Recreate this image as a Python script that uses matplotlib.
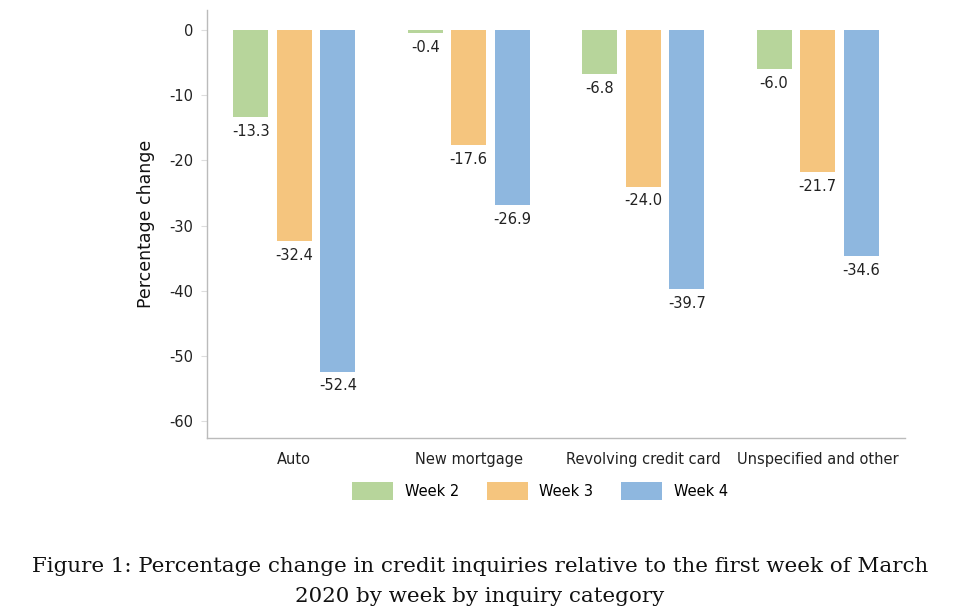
import matplotlib.pyplot as plt
import numpy as np

plt.rcParams['axes.unicode_minus'] = False

categories = ['Auto', 'New mortgage', 'Revolving credit card', 'Unspecified and other']
weeks = ['Week 2', 'Week 3', 'Week 4']
week2 = [-13.3, -0.4, -6.8, -6.0]
week3 = [-32.4, -17.6, -24.0, -21.7]
week4 = [-52.4, -26.9, -39.7, -34.6]
colors = ['#b7d59b', '#f5c57e', '#8eb7df']

fig = plt.figure(figsize=(9.6, 6.12), dpi=100)
ax = fig.add_axes([207 / 960, 1 - 438 / 612, (905 - 207) / 960, (438 - 10) / 612])

x = np.arange(len(categories))
width = 0.2
step = 0.25
series = [week2, week3, week4]
handles = []
for i, (vals, name, col) in enumerate(zip(series, weeks, colors)):
    pos = x + (i - 1) * step
    b = ax.bar(pos, vals, width, color=col, label=name)
    handles.append(b)
    for p, v in zip(pos, vals):
        ax.annotate(f'{v:.1f}', (p, v), xytext=(0, -5), textcoords='offset points',
                    ha='center', va='top', fontsize=10.5, color='#222222')

ax.set_xlim(-0.5, 3.5)
ax.set_ylim(-62.6, 3.1)
ax.set_yticks(np.arange(0, -61, -10))
ax.set_xticks(x)
ax.set_xticklabels(categories, fontsize=10.5, color='#222222')
ax.tick_params(axis='x', length=0, pad=10)
ax.tick_params(axis='y', length=4, color='#dddddd', labelsize=10.5, labelcolor='#222222', pad=6)
for s in ['top', 'right']:
    ax.spines[s].set_visible(False)
for s in ['left', 'bottom']:
    ax.spines[s].set_color('#bbbbbb')
    ax.spines[s].set_linewidth(1)
ax.set_ylabel('Percentage change', fontsize=12.5, color='#111111', labelpad=10)

fig.legend(handles=handles, labels=weeks, loc='center', bbox_to_anchor=(540 / 960, 1 - 491 / 612),
           ncol=3, frameon=False, fontsize=10.5, handlelength=2.8, handleheight=1.5,
           columnspacing=1.9, handletextpad=0.8)

fig.text(0.5, 1 - 566 / 612, 'Figure 1: Percentage change in credit inquiries relative to the first week of March',
         ha='center', va='center', fontsize=15.4, family='DejaVu Serif', color='#111111')
fig.text(0.5, 1 - 597 / 612, '2020 by week by inquiry category',
         ha='center', va='center', fontsize=15.4, family='DejaVu Serif', color='#111111')

fig.savefig('out.png', dpi=100)
